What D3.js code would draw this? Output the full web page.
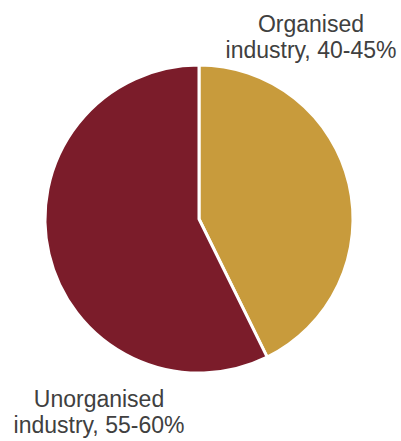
<!DOCTYPE html>
<html>
<head>
<meta charset="utf-8">
<script src="https://cdn.jsdelivr.net/npm/d3@7"></script>
<style>
  body { margin:0; background:#fff; }
  svg { display:block; }
</style>
</head>
<body>
<svg id="viewer"></svg>
<script>
// data
var categories = ['Organised industry', 'Unorganised industry'];
var shares = [42.7, 57.3];
var rangeLabels = ['40-45%', '55-60%'];
var colors = ['#C89B3C', '#7B1C2A'];

var width = 401, height = 441;
var cx = 199, cy = 219, radius = 154;

var viewer = d3.select('#viewer')
  .attr('width', width)
  .attr('height', height);

var pie = d3.pie().sort(null).value(function(d){ return d; });
var arc = d3.arc().innerRadius(0).outerRadius(radius);

var g = viewer.append('g').attr('transform', 'translate(' + cx + ',' + cy + ')');

g.selectAll('.slice')
  .data(pie(shares))
  .enter().append('path')
    .attr('class', 'slice')
    .attr('d', arc)
    .style('fill', function(d, i){ return colors[i]; })
    .style('stroke', '#fff')
    .style('stroke-width', 3)
    .style('stroke-linejoin', 'round');

// labels outside the pie
var labelPos = [
  {x: 311, y: 32},
  {x: 99, y: 407}
];
categories.forEach(function(cat, i){
  var words = cat.split(' ');
  var t = viewer.append('text')
    .attr('x', labelPos[i].x)
    .attr('y', labelPos[i].y)
    .attr('text-anchor', 'middle')
    .style('font-family', 'Liberation Sans, Arial, sans-serif')
    .style('font-size', '23px')
    .style('fill', '#404040');
  t.append('tspan').attr('x', labelPos[i].x).text(words[0]);
  t.append('tspan').attr('x', labelPos[i].x).attr('dy', 25.5)
    .text(words.slice(1).join(' ') + ', ' + rangeLabels[i]);
});
</script>
</body>
</html>
